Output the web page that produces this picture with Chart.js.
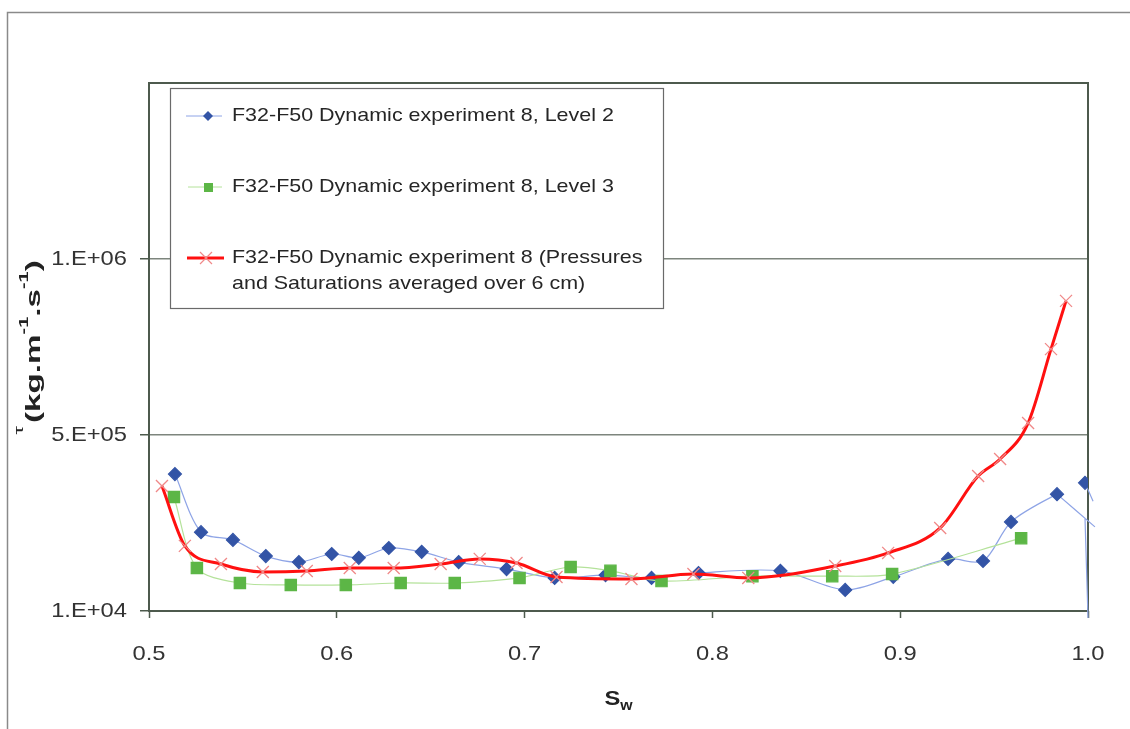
<!DOCTYPE html>
<html lang="en">
    <head>
        <meta charset="utf-8" />
        <script src="https://cdn.jsdelivr.net/npm/chart.js@4.4.1/dist/chart.umd.min.js"></script>
        <title>Dynamic experiment 8</title>
        <style>
            body { margin: 0; background: #fff; }
        </style>
    </head>
    <body>
        <canvas id="grafico" width="1130" height="729"></canvas>
        <script>
            // tick values and labels
            const xTicks = [0.5, 0.6, 0.7, 0.8, 0.9, 1.0];
            const xTickLabels = ["0.5", "0.6", "0.7", "0.8", "0.9", "1.0"];
            const yTicks = [1e4, 5.1e5, 1.01e6, 1.51e6];
            const yTickLabels = ["1.E+04", "5.E+05", "1.E+06", ""];

            // level 2 (blue diamonds)
            const blueX = [0.5138, 0.5277, 0.5447, 0.5622, 0.5798, 0.5973, 0.6117, 0.6277, 0.6452, 0.6649, 0.6904, 0.7160,
                           0.7431, 0.7676, 0.7926, 0.8362, 0.8707, 0.8963, 0.9255, 0.9441, 0.9590, 0.9835, 0.9984];
            const blueY = [399000, 234000, 212000, 166000, 149000, 172000, 161000, 189000, 178000, 149000, 129000, 104000,
                           112000, 104000, 118000, 124000, 70000, 107000, 158000, 152000, 263000, 342000, 374000];
            // smoothed line running past x = 1 (no markers)
            const blueTailX = [0.9835, 1.0037, 1.0, 0.9984, 1.0027, 1.0, 0.9984, 1.0];
            const blueTailY = [342000, 249000, null, 374000, 322000, null, 274000, -10000];

            // level 3 (green squares)
            const greenX = [0.5133, 0.5255, 0.5484, 0.5755, 0.6048, 0.6340, 0.6628, 0.6973, 0.7245, 0.7457, 0.7729, 0.8213,
                            0.8638, 0.8957, 0.9644];
            const greenY = [334000, 132000, 89500, 84000, 84000, 89500, 89500, 104000, 135000, 124000, 95000, 109000,
                            109000, 115000, 217000];

            // averaged over 6 cm (red crosses)
            const redX = [0.5069, 0.5191, 0.5383, 0.5606, 0.5840, 0.6069, 0.6303, 0.6553, 0.6761, 0.6957, 0.7170, 0.7569,
                          0.7899, 0.8191, 0.8654, 0.8936, 0.9213, 0.9415, 0.9532, 0.9681, 0.9803, 0.9883];
            const redY = [365000, 195000, 143500, 121000, 123600, 132000, 132000, 143500, 158000, 146400, 106600, 101000,
                          115000, 104000, 138000, 175000, 246000, 393500, 442000, 544000, 754000, 891000];

            const labels = [
                "F32-F50 Dynamic experiment 8, Level 2",
                "F32-F50 Dynamic experiment 8, Level 3",
                "F32-F50 Dynamic experiment 8 (Pressures and Saturations averaged over 6 cm)"
            ];

            const puntos = (xs, ys) => xs.map((x, i) => ({ x: x, y: ys[i] }));
            const fuente = "'Liberation Sans', Arial, sans-serif";
            const estirar = 1.13; // the original is a little wider than tall

            // text stretched horizontally
            function texto(ctx, t, x, y, align) {
                ctx.save();
                ctx.translate(x, y);
                ctx.scale(estirar, 1);
                ctx.textAlign = align || "left";
                ctx.fillText(t, 0, 0);
                ctx.restore();
            }

            const marco = {
                id: "marco",
                beforeDraw(chart) {
                    const ctx = chart.ctx;
                    ctx.save();
                    ctx.fillStyle = "#fff";
                    ctx.fillRect(0, 0, chart.width, chart.height);
                    ctx.strokeStyle = "#8a8a8a";
                    ctx.lineWidth = 1.5;
                    ctx.strokeRect(7.5, 12.5, chart.width + 10, chart.height + 10);
                    ctx.restore();
                },
                beforeDatasetsDraw(chart) {
                    const a = chart.chartArea;
                    const ctx = chart.ctx;
                    ctx.save();
                    ctx.strokeStyle = "#4d5a4d";
                    ctx.lineWidth = 2;
                    ctx.strokeRect(a.left, a.top, a.right - a.left, a.bottom - a.top);
                    ctx.restore();
                },
                afterDraw(chart) {
                    const ctx = chart.ctx;
                    const xs = chart.scales.x, ys = chart.scales.y;
                    ctx.save();

                    // tick labels
                    ctx.fillStyle = "#333";
                    ctx.font = "21px " + fuente;
                    ctx.textBaseline = "middle";
                    xTicks.forEach((v, i) => texto(ctx, xTickLabels[i], xs.getPixelForValue(v), 654, "center"));
                    yTicks.forEach((v, i) => texto(ctx, yTickLabels[i], 127, ys.getPixelForValue(v), "right"));

                    // legend box
                    ctx.fillStyle = "#fff";
                    ctx.fillRect(170, 88, 493, 220);
                    ctx.strokeStyle = "#6a6a6a";
                    ctx.lineWidth = 1.2;
                    ctx.strokeRect(170.5, 88.5, 493, 220);

                    const filas = [116, 187, 258];
                    // blue
                    ctx.strokeStyle = "#8ea4e6"; ctx.lineWidth = 1;
                    ctx.beginPath(); ctx.moveTo(186, filas[0]); ctx.lineTo(222, filas[0]); ctx.stroke();
                    ctx.fillStyle = "#3354a6";
                    ctx.beginPath(); ctx.moveTo(208, filas[0] - 5); ctx.lineTo(213, filas[0]); ctx.lineTo(208, filas[0] + 5); ctx.lineTo(203, filas[0]); ctx.closePath(); ctx.fill();
                    // green
                    ctx.strokeStyle = "#b4e29a";
                    ctx.beginPath(); ctx.moveTo(188, filas[1]); ctx.lineTo(222, filas[1]); ctx.stroke();
                    ctx.fillStyle = "#5cb646";
                    ctx.fillRect(204, filas[1] - 4, 9, 9);
                    // red
                    ctx.strokeStyle = "#ff1010"; ctx.lineWidth = 3;
                    ctx.beginPath(); ctx.moveTo(187, filas[2]); ctx.lineTo(224, filas[2]); ctx.stroke();
                    ctx.strokeStyle = "#f08888"; ctx.lineWidth = 1.2;
                    ctx.beginPath(); ctx.moveTo(200, filas[2] - 6); ctx.lineTo(212, filas[2] + 6); ctx.moveTo(212, filas[2] - 6); ctx.lineTo(200, filas[2] + 6); ctx.stroke();

                    ctx.fillStyle = "#262626";
                    ctx.font = "19px " + fuente;
                    texto(ctx, labels[0], 232, filas[0]);
                    texto(ctx, labels[1], 232, filas[1]);
                    // wrap third label
                    const palabras = labels[2].split(" ");
                    let linea = "", y = filas[2];
                    palabras.forEach((p) => {
                        const prueba = linea ? linea + " " + p : p;
                        if (ctx.measureText(prueba).width * estirar > 420 && linea) {
                            texto(ctx, linea, 232, y);
                            linea = p;
                            y += 26;
                        } else {
                            linea = prueba;
                        }
                    });
                    texto(ctx, linea, 232, y);

                    // x axis title: S with subscript w
                    ctx.fillStyle = "#222";
                    ctx.textBaseline = "alphabetic";
                    ctx.font = "bold 21px " + fuente;
                    const cx = (chart.chartArea.left + chart.chartArea.right) / 2;
                    const anchoS = ctx.measureText("S").width * estirar;
                    ctx.font = "bold 14px " + fuente;
                    const anchoW = ctx.measureText("w").width * estirar;
                    const x0 = cx - (anchoS + anchoW) / 2;
                    ctx.font = "bold 21px " + fuente;
                    texto(ctx, "S", x0, 705);
                    ctx.font = "bold 14px " + fuente;
                    texto(ctx, "w", x0 + anchoS, 710);

                    // y axis title, rotated
                    ctx.translate(40, 423);
                    ctx.rotate(-Math.PI / 2);
                    ctx.scale(1.66, 1);
                    ctx.font = "13px " + fuente;
                    ctx.fillText("\u03c4", -7, -17);
                    let px = 0;
                    const trozos = [["(kg.m", "bold 20px", 0], ["-1", "bold 12px", -12], [".s", "bold 20px", 0], ["-1", "bold 12px", -12], [")", "bold 20px", 0]];
                    trozos.forEach(([t, f, dy]) => {
                        ctx.font = f + " " + fuente;
                        ctx.fillText(t, px, dy);
                        px += ctx.measureText(t).width;
                    });
                    ctx.restore();
                }
            };

            new Chart(document.querySelector("#grafico").getContext("2d"), {
                type: "scatter",
                data: {
                    datasets: [
                        {
                            label: labels[0],
                            data: puntos(blueX, blueY),
                            showLine: true,
                            tension: 0.3,
                            borderColor: "#8ea4e6",
                            borderWidth: 1.2,
                            pointStyle: "rectRot",
                            pointRadius: 6.5,
                            pointBackgroundColor: "#3354a6",
                            pointBorderColor: "#3354a6",
                            segment: {
                                borderColor: (c) => (c.p1DataIndex === blueX.length - 1 ? "transparent" : "#8ea4e6")
                            },
                            order: 3
                        },
                        {
                            label: "",
                            data: puntos(blueTailX, blueTailY),
                            showLine: true,
                            spanGaps: false,
                            tension: 0.2,
                            borderColor: "#8ea4e6",
                            borderWidth: 1.2,
                            pointRadius: 0,
                            clip: { left: 0, top: 0, right: 12, bottom: 8 },
                            order: 4
                        },
                        {
                            label: labels[1],
                            data: puntos(greenX, greenY),
                            showLine: true,
                            tension: 0.3,
                            borderColor: "#b4e29a",
                            borderWidth: 1.2,
                            pointStyle: "rect",
                            pointRadius: 8,
                            pointBackgroundColor: "#5cb646",
                            pointBorderColor: "#5cb646",
                            order: 2
                        },
                        {
                            label: labels[2],
                            data: puntos(redX, redY),
                            showLine: true,
                            cubicInterpolationMode: "monotone",
                            borderColor: "#ff1010",
                            borderWidth: 3,
                            pointStyle: "crossRot",
                            pointRadius: 8.5,
                            pointBorderColor: "#f08888",
                            pointBorderWidth: 1.3,
                            order: 1
                        }
                    ]
                },
                options: {
                    responsive: false,
                    animation: false,
                    layout: { padding: { left: 0, top: 83, right: 42, bottom: 0 } },
                    scales: {
                        x: {
                            type: "linear",
                            min: 0.5,
                            max: 1.0,
                            afterBuildTicks: (s) => { s.ticks = xTicks.map((v) => ({ value: v })); },
                            afterFit: (s) => { s.height = 118; },
                            border: { display: false },
                            grid: { drawOnChartArea: false, drawTicks: true, tickLength: 7, tickColor: "#4d5a4d", tickWidth: 1.5 },
                            ticks: { display: false }
                        },
                        y: {
                            min: 1e4,
                            max: 1.51e6,
                            afterBuildTicks: (s) => { s.ticks = yTicks.map((v) => ({ value: v })); },
                            afterFit: (s) => { s.width = 149; },
                            border: { display: false },
                            grid: {
                                color: "#7d857d",
                                lineWidth: 1.5,
                                drawTicks: true,
                                tickLength: 9,
                                tickColor: (c) => (c.index === yTicks.length - 1 ? "rgba(0,0,0,0)" : "#4d5a4d"),
                                tickWidth: 1.5
                            },
                            ticks: { display: false }
                        }
                    },
                    plugins: {
                        legend: { display: false },
                        tooltip: { enabled: false }
                    }
                },
                plugins: [marco]
            });
        </script>
    </body>
</html>
